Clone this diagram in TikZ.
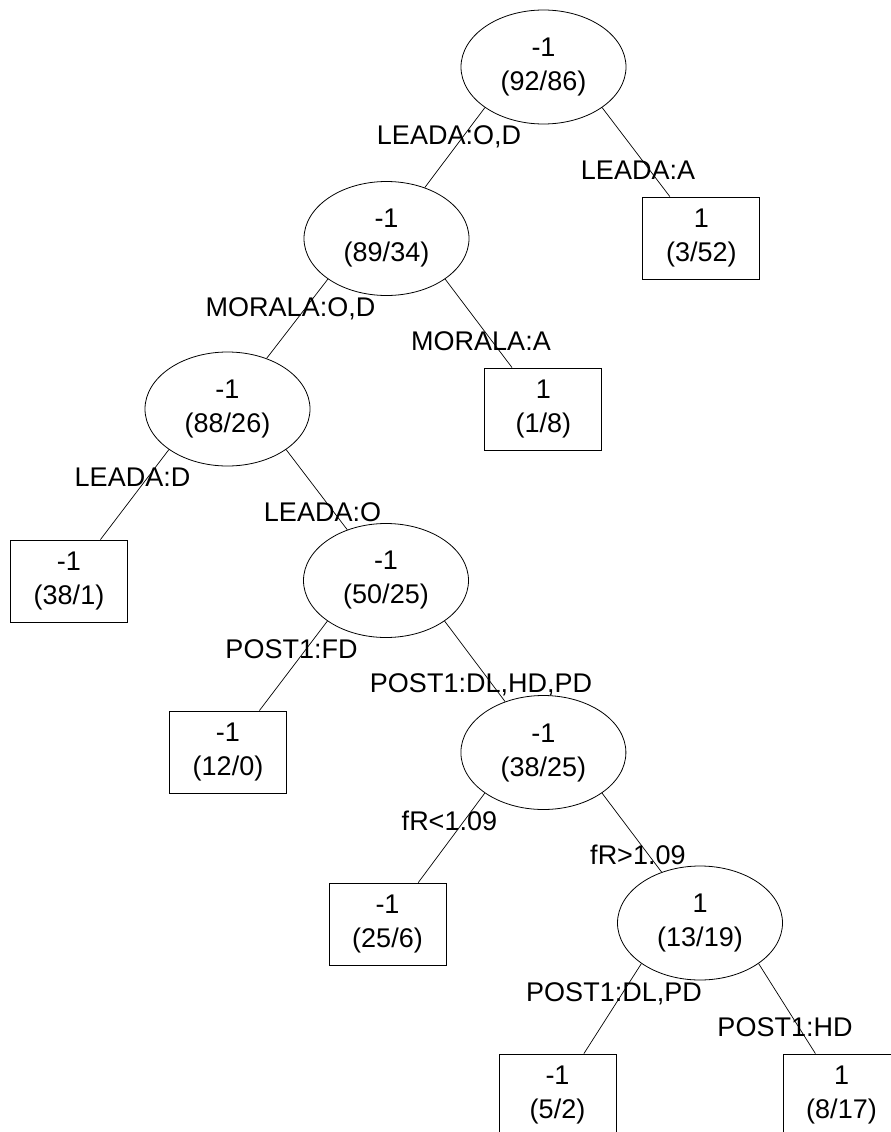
\documentclass[tikz,border=0pt]{standalone}
\usepackage{fontspec}
\setmainfont{Liberation Sans}
\usetikzlibrary{shapes.geometric,calc}
\tikzset{
  base/.style={font=\fontsize{27}{34}\selectfont, align=center, inner sep=0pt},
  inner/.style={base, draw, ellipse, minimum width=165pt, minimum height=114pt, line width=0.8pt},
  leaf/.style={base, draw, rectangle, minimum width=117pt, minimum height=82pt, line width=0.8pt},
  edge/.style={draw, line width=0.7pt},
  lbl/.style={font=\fontsize{27}{34}\selectfont, inner sep=0pt, anchor=base}
}
\begin{document}
\begin{tikzpicture}[x=1pt,y=-1pt]
\useasboundingbox (0,0) rectangle (891,1132);
\clip (0,0) rectangle (891,1132);
% nodes
\node[inner] (root) at (543.5,67) {-1\\(92/86)};
\node[inner] (n1) at (386.5,238.5) {-1\\(89/34)};
\node[leaf] (l1) at (701.3,238) {1\\(3/52)};
\node[inner] (n2) at (227.5,409) {-1\\(88/26)};
\node[leaf] (l2) at (543.3,409) {1\\(1/8)};
\node[leaf] (l3) at (69,581) {-1\\(38/1)};
\node[inner] (n3) at (386,580.5) {-1\\(50/25)};
\node[leaf] (l4) at (228,752) {-1\\(12/0)};
\node[inner] (n4) at (543.4,752.5) {-1\\(38/25)};
\node[leaf] (l5) at (387.5,924) {-1\\(25/6)};
\node[inner] (n5) at (700,923) {1\\(13/19)};
\node[leaf] (l6) at (557.5,1095) {-1\\(5/2)};
\node[leaf] (l7) at (841.5,1095) {1\\(8/17)};
% edges
\draw[edge] (root.south west) -- (n1);
\draw[edge] (root.south east) -- (l1);
\draw[edge] (n1.south west) -- (n2);
\draw[edge] (n1.south east) -- (l2);
\draw[edge] (n2.south west) -- (l3);
\draw[edge] (n2.south east) -- (n3);
\draw[edge] (n3.south west) -- (l4);
\draw[edge] (n3.south east) -- (n4);
\draw[edge] (n4.south west) -- (l5);
\draw[edge] (n4.south east) -- (n5);
\draw[edge] (n5.south west) -- (l6);
\draw[edge] (n5.south east) -- (l7);
% labels
\node[lbl] (e1) at ($(root)+(-94.5,77.5)$) {LEADA:O,D};
\node[lbl] (e2) at ($(root)+(94.5,112)$) {LEADA:A};
\node[lbl] (e3) at ($(n1)+(-96,77.5)$) {MORALA:O,D};
\node[lbl] (e4) at ($(n1)+(94.5,112)$) {MORALA:A};
\node[lbl] (e5) at ($(n2)+(-95,77.5)$) {LEADA:D};
\node[lbl] (e6) at ($(n2)+(95,112)$) {LEADA:O};
\node[lbl] (e7) at ($(n3)+(-94.5,77.5)$) {POST1:FD};
\node[lbl] (e8) at ($(n3)+(95,112)$) {POST1:DL,HD,PD};
\node[lbl] (e9) at ($(n4)+(-94,77.5)$) {fR<1.09};
\node[lbl] (e10) at ($(n4)+(94.5,112)$) {fR>1.09};
\node[lbl] (e11) at ($(n5)+(-86,78.5)$) {POST1:DL,PD};
\node[lbl] (e12) at ($(n5)+(85,113.5)$) {POST1:HD};
\end{tikzpicture}
\end{document}
